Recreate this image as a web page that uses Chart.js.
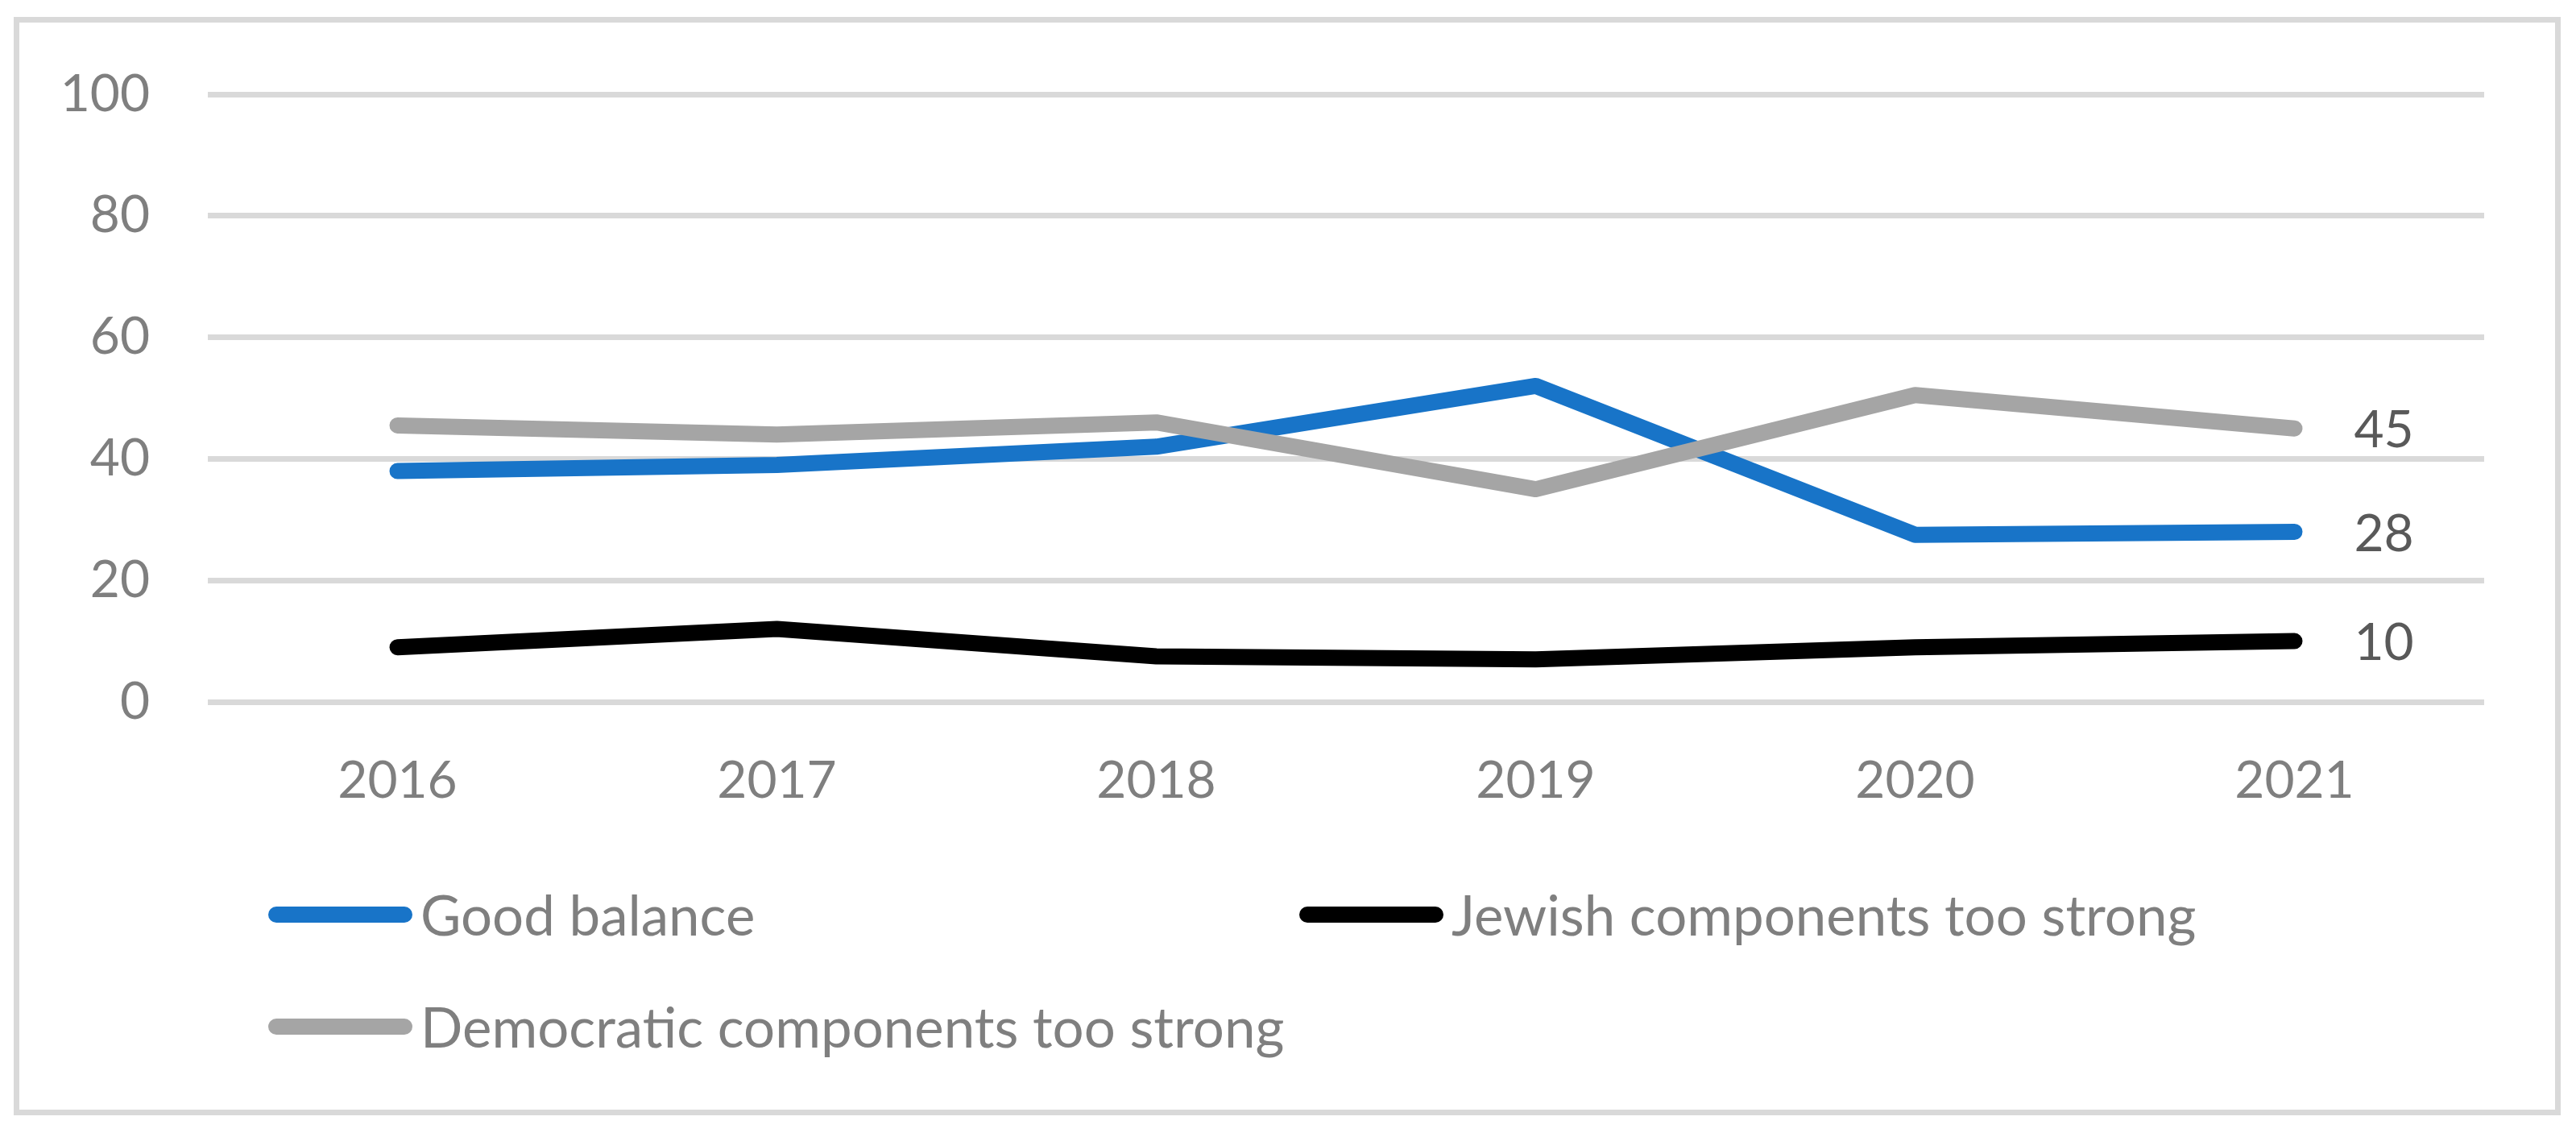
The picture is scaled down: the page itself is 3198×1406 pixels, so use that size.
<!DOCTYPE html>
<html>
<head>
<meta charset="utf-8">
<script src="https://cdn.jsdelivr.net/npm/chart.js@4.4.1/dist/chart.umd.min.js"></script>
<style>
  html, body { margin: 0; padding: 0; background: #ffffff; }
  #wrap { position: relative; width: 3198px; height: 1406px; overflow: hidden; background: #ffffff; }
  #chart { position: absolute; left: 0; top: 0; }
  #frame { position: absolute; left: 17px; top: 21px; width: 3162px; height: 1363px;
           box-sizing: border-box; border: 7px solid #d9d9d9; pointer-events: none; }
  #legend { position: absolute; left: 0; top: 0; width: 3198px; height: 1406px; pointer-events: none; }
  .item { position: absolute; display: flex; align-items: center; height: 120px; transform: translateY(-50%); }
  .swatch { width: 179px; height: 20px; border-radius: 10px; margin-right: 10px; flex: none; }
  .label { font-family: Lato, "Open Sans", sans-serif; font-size: 69px; color: #7f7f7f; white-space: nowrap; line-height: 1.2; }
</style>
</head>
<body>
<div id="wrap">
  <canvas id="chart" width="3198" height="1406"></canvas>
  <div id="frame"></div>
  <div id="legend"></div>
</div>
<script>
// ---- data ----
const categories = ['2016', '2017', '2018', '2019', '2020', '2021'];
const goodBalance = [38, 39, 42, 52, 27.5, 28];
const jewishTooStrong = [9, 12, 7.5, 7, 9, 10];
const democraticTooStrong = [45.5, 44, 46, 35, 50.5, 45];
const seriesNames = ['Good balance', 'Jewish components too strong', 'Democratic components too strong'];
const yMin = 0, yMax = 100, yStep = 20;

// ---- styles / layout ----
const seriesColors = ['#1874c8', '#000000', '#a5a5a5'];
const legendSlots = [ { left: 333, cy: 1135 }, { left: 1613, cy: 1135 }, { left: 333, cy: 1274 } ];
const FONT = 'Lato, "Open Sans", sans-serif';
const FONT_SIZE = 64;

Chart.defaults.font.family = FONT;
Chart.defaults.font.size = FONT_SIZE;

const endLabels = {
  id: 'endLabels',
  afterDatasetsDraw(chart) {
    const ctx = chart.ctx;
    chart.data.datasets.forEach((ds, i) => {
      const meta = chart.getDatasetMeta(i);
      const pt = meta.data[meta.data.length - 1];
      if (!pt) return;
      ctx.save();
      ctx.font = FONT_SIZE + 'px ' + FONT;
      ctx.fillStyle = '#595959';
      ctx.textAlign = 'left';
      ctx.textBaseline = 'middle';
      ctx.fillText(String(ds.data[ds.data.length - 1]), pt.x + 74, pt.y + 3);
      ctx.restore();
    });
  }
};

const seriesData = [goodBalance, jewishTooStrong, democraticTooStrong];
const datasets = seriesNames.map((name, i) => ({
  label: name,
  data: seriesData[i],
  borderColor: seriesColors[i],
  backgroundColor: seriesColors[i],
  borderWidth: 20,
  borderCapStyle: 'round',
  borderJoinStyle: 'round',
  pointRadius: 0,
  pointHoverRadius: 0,
  tension: 0,
  fill: false,
  order: 3 - i
}));

const chart = new Chart(document.getElementById('chart'), {
  type: 'line',
  data: { labels: categories, datasets: datasets },
  options: {
    responsive: false,
    devicePixelRatio: 1,
    animation: false,
    layout: { padding: { left: 20, right: 114, top: 117, bottom: 385 } },
    plugins: { legend: { display: false }, tooltip: { enabled: false } },
    scales: {
      x: {
        offset: true,
        grid: { display: false },
        border: { display: false },
        ticks: { color: '#7f7f7f', padding: 52, font: { size: FONT_SIZE } },
        afterFit(scale) { scale.height = 150; }
      },
      y: {
        min: yMin, max: yMax,
        grid: { color: '#d9d9d9', lineWidth: 7, drawTicks: false },
        border: { display: false },
        ticks: { stepSize: yStep, color: '#7f7f7f', padding: 72, font: { size: FONT_SIZE } },
        afterFit(scale) { scale.width = 238; }
      }
    }
  },
  plugins: [endLabels]
});

// ---- HTML legend built from chart datasets ----
const legendEl = document.getElementById('legend');
chart.data.datasets.forEach((ds, i) => {
  const slot = legendSlots[i];
  const item = document.createElement('div');
  item.className = 'item';
  item.style.left = slot.left + 'px';
  item.style.top = slot.cy + 'px';
  const sw = document.createElement('span');
  sw.className = 'swatch';
  sw.style.background = ds.borderColor;
  const lb = document.createElement('span');
  lb.className = 'label';
  lb.textContent = ds.label;
  item.appendChild(sw);
  item.appendChild(lb);
  legendEl.appendChild(item);
});
</script>
</body>
</html>
